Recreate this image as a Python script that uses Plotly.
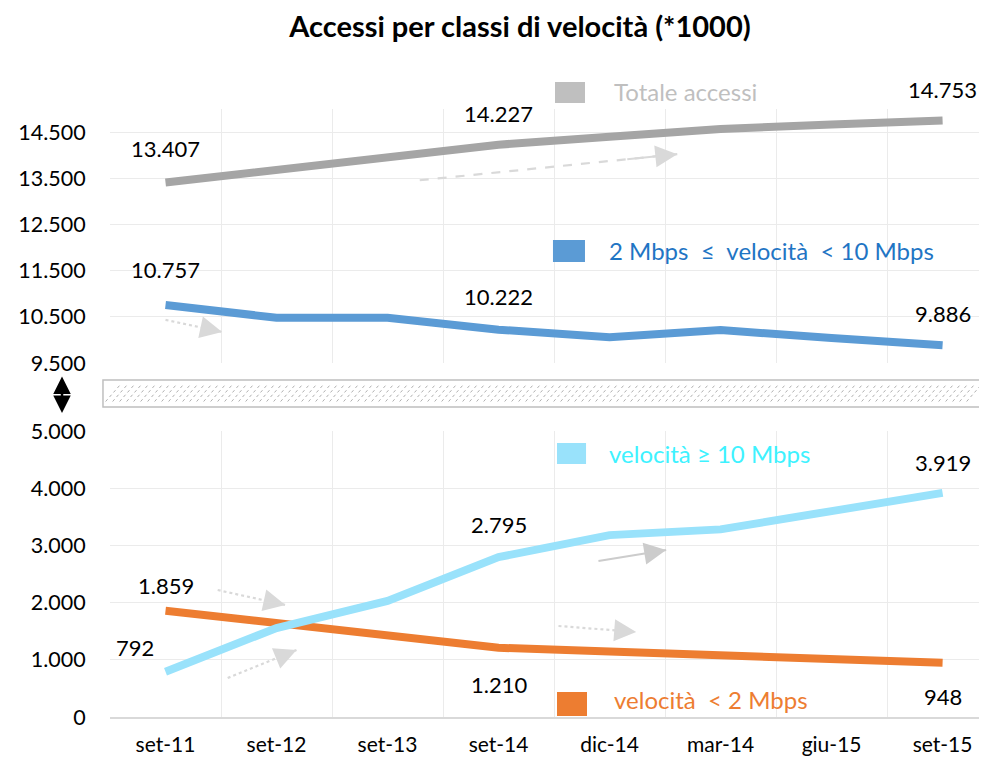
import plotly.graph_objects as go

# --- data -------------------------------------------------------------
periodi = ["set-11", "set-12", "set-13", "set-14", "dic-14", "mar-14", "giu-15", "set-15"]
totale = [13407, 13690, 13960, 14227, 14400, 14565, 14665, 14753]
da2a10 = [10757, 10480, 10480, 10222, 10060, 10215, 10040, 9886]
oltre10 = [792, 1556, 2030, 2795, 3180, 3280, 3600, 3919]
sotto2 = [1859, 1650, 1450, 1210, 1145, 1085, 1015, 948]

FONT = "Lato"
GRID = "#ebebeb"

c_tot, c_mid, c_hi, c_lo = "#a5a5a5", "#5b9bd5", "#99e2fb", "#ed7d31"


def it(v):
    return f"{v:,}".replace(",", ".")


fig = go.Figure()

# upper panel (y2): totale + 2-10 Mbps
fig.add_trace(go.Scatter(x=periodi, y=totale, mode="lines", xaxis="x2", yaxis="y2",
                         line=dict(color=c_tot, width=8), hoverinfo="x+y"))
fig.add_trace(go.Scatter(x=periodi, y=da2a10, mode="lines", xaxis="x2", yaxis="y2",
                         line=dict(color=c_mid, width=8), hoverinfo="x+y"))
# lower panel (y): >=10 and <2 Mbps
fig.add_trace(go.Scatter(x=periodi, y=sotto2, mode="lines",
                         line=dict(color=c_lo, width=8), hoverinfo="x+y"))
fig.add_trace(go.Scatter(x=periodi, y=oltre10, mode="lines",
                         line=dict(color=c_hi, width=8), hoverinfo="x+y"))

# data labels: (serie, index, axis, yshift, xshift)
etichette = [
    (totale, 0, "2", 34, 0), (totale, 3, "2", 31, 0), (totale, 7, "2", 31, 0),
    (da2a10, 0, "2", 35, 0), (da2a10, 3, "2", 33, 0), (da2a10, 7, "2", 32, 0),
    (oltre10, 0, "", 24, -31), (oltre10, 3, "", 33, 0), (oltre10, 7, "", 30, 0),
    (sotto2, 0, "", 25, 0), (sotto2, 3, "", -37, 0), (sotto2, 7, "", -34, 0),
]
annotations = []
for serie, i, ax, ys, xs in etichette:
    annotations.append(dict(x=periodi[i], y=serie[i], xref="x" + ax, yref="y" + ax,
                            text=it(serie[i]), showarrow=False, yshift=ys, xshift=xs,
                            font=dict(family=FONT, size=22, color="black")))

# legend-like labels next to coloured squares
legenda = [
    ("Totale accessi", "#bfbfbf", 0.5724, 1.028),
    ("2 Mbps  \u2264  velocità  < 10 Mbps", "#1f75c4", 0.5667, 0.768),
    ("velocità \u2265 10 Mbps", "#3ef2ff", 0.5667, 0.4326),
    ("velocità  < 2 Mbps", c_lo, 0.5724, 0.028),
]
for txt, col, x, y in legenda:
    annotations.append(dict(x=x, y=y, xref="paper", yref="paper", xanchor="left",
                            yanchor="middle", text=txt, showarrow=False,
                            font=dict(family=FONT, size=24, color=col)))

shapes = []
quadrati = [
    (0.5074, 0.5416, 1.0099, 1.0444, "#bfbfbf"),
    (0.5051, 0.5416, 0.7484, 0.7845, c_mid),
    (0.5097, 0.5428, 0.4161, 0.4507, c_hi),
    (0.5097, 0.5439, 0.0016, 0.0411, c_lo),
]
for x0, x1, y0, y1, col in quadrati:
    shapes.append(dict(type="rect", xref="paper", yref="paper", x0=x0, x1=x1, y0=y0, y1=y1,
                       fillcolor=col, line=dict(width=0)))

# broken-axis band with hatching
bx0, bx1, by0, by1 = -0.008, 0.9977, 0.5099, 0.5543
dx = 14 / 877
path = ""
step = 7 / 877
x = bx0 + 0.003
while x + dx <= bx1 - 0.002:
    path += f"M{x:.5f},{by0 + 0.009} L{x + dx:.5f},{by1 - 0.009} "
    x += step
shapes.append(dict(type="path", xref="paper", yref="paper", path=path,
                   line=dict(color="#b0b0b0", width=1, dash="dot")))
shapes.append(dict(type="rect", xref="paper", yref="paper", x0=bx0, x1=bx1, y0=by0, y1=by1,
                   line=dict(color="#bfbfbf", width=1.5)))

# double arrow for the axis break
annotations.append(dict(x=-0.0547, y=0.5, xref="paper", yref="paper", ax=0, ay=-38,
                        axref="pixel", ayref="pixel", text="", showarrow=True,
                        arrowside="end+start", arrowhead=2, arrowsize=1.4, arrowwidth=2.5,
                        arrowcolor="black"))

# decorative trend arrows (x in category index, y in data units)
frecce = [
    ("2", 2.29, 13457, 4.61, 14022, "dash", "#d9d9d9"),
    ("2", 0.0, 10435, 0.51, 10174, "dot", "#d9d9d9"),
    ("", 0.47, 2220, 1.08, 1958, "dot", "#d9d9d9"),
    ("", 0.56, 682, 1.18, 1171, "dot", "#d9d9d9"),
    ("", 3.90, 2727, 4.51, 2920, "solid", "#cccccc"),
    ("", 3.54, 1591, 4.24, 1486, "dot", "#d9d9d9"),
]
for ax, x0, y0, x1, y1, dash, col in frecce:
    shapes.append(dict(type="line", xref="x" + ax, yref="y" + ax, x0=x0, y0=y0, x1=x1, y1=y1,
                       line=dict(color=col, width=2.2, dash=dash)))
    annotations.append(dict(x=x1, y=y1, xref="x" + ax, yref="y" + ax,
                            ax=x0 + (x1 - x0) * 0.8, ay=y0 + (y1 - y0) * 0.8,
                            axref="x" + ax, ayref="y" + ax, text="", showarrow=True,
                            arrowhead=2, arrowsize=2.2, arrowwidth=2, arrowcolor=col))

tickfont = dict(family=FONT, size=21.5, color="black")
fig.update_layout(
    width=987, height=759,
    paper_bgcolor="white", plot_bgcolor="white",
    separators=",.",
    showlegend=False,
    margin=dict(l=102, r=8, t=101, b=50),
    title=dict(text="<b>Accessi per classi di velocità (*1000)</b>", x=512 / 987,
               xanchor="center", y=1 - 19 / 759, yanchor="middle",
               font=dict(family=FONT, size=29, color="black")),
    xaxis=dict(type="category", range=[-0.5, 7.4], tickson="boundaries", showgrid=True,
               gridcolor=GRID, gridwidth=1, showline=True, linecolor="#d9d9d9", linewidth=1.5,
               ticks="", ticklabelstandoff=8, automargin=False,
               tickfont=dict(family=FONT, size=21, color="black"), anchor="y"),
    xaxis2=dict(type="category", matches="x", range=[-0.5, 7.4], tickson="boundaries",
                showgrid=True, gridcolor=GRID, showticklabels=False, anchor="y2"),
    yaxis=dict(domain=[0, 0.4704], range=[0, 5000], tick0=0, dtick=1000, tickformat=",d",
               showgrid=True, gridcolor=GRID, zeroline=False, ticks="outside", ticklen=19,
               tickcolor="rgba(0,0,0,0)", tickfont=tickfont),
    yaxis2=dict(domain=[0.5822, 1], range=[9500, 15000], tick0=9500, dtick=1000,
                tickformat=",d", showgrid=True, gridcolor=GRID, zeroline=False,
                ticks="outside", ticklen=19, tickcolor="rgba(0,0,0,0)", tickfont=tickfont,
                anchor="x2"),
    annotations=annotations,
    shapes=shapes,
)

fig.write_html("out.html")
